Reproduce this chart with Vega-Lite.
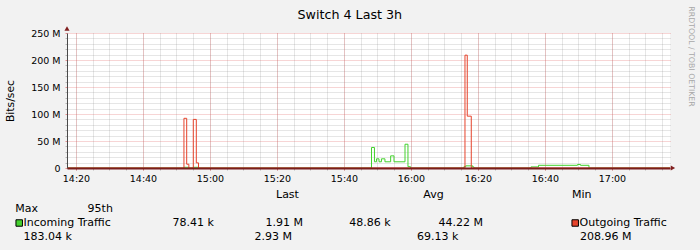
{
  "$schema": "https://vega.github.io/schema/vega-lite/v6.json",
  "autosize": {"type": "none"},
  "padding": {"left": 67, "top": 33, "right": 30, "bottom": 82},
  "width": 603,
  "height": 135,
  "background": "#f2f2f2",
  "config": {
    "view": {"stroke": null, "fill": "#ffffff"},
    "font": "DejaVu Sans",
    "axis": {"labelFont": "DejaVu Sans", "titleFont": "DejaVu Sans"}
  },
  "title": {
    "text": "Switch 4 Last 3h",
    "font": "DejaVu Sans",
    "fontSize": 12.7,
    "fontWeight": "normal",
    "color": "#000000",
    "anchor": "start",
    "frame": "group",
    "dx": 230.5,
    "dy": 25.5,
    "baseline": "alphabetic",
    "offset": 0
  },
  "datasets": {
    "traffic": [
      {"minute": 857.32, "series": "Incoming Traffic", "bps": 0},
      {"minute": 892.23, "series": "Incoming Traffic", "bps": 1300000},
      {"minute": 893.67, "series": "Incoming Traffic", "bps": 0},
      {"minute": 895.02, "series": "Incoming Traffic", "bps": 1300000},
      {"minute": 896.58, "series": "Incoming Traffic", "bps": 0},
      {"minute": 948.22, "series": "Incoming Traffic", "bps": 38000000},
      {"minute": 949.1, "series": "Incoming Traffic", "bps": 11500000},
      {"minute": 949.7, "series": "Incoming Traffic", "bps": 17000000},
      {"minute": 950.45, "series": "Incoming Traffic", "bps": 11500000},
      {"minute": 951.18, "series": "Incoming Traffic", "bps": 17000000},
      {"minute": 952.23, "series": "Incoming Traffic", "bps": 11500000},
      {"minute": 953.93, "series": "Incoming Traffic", "bps": 22500000},
      {"minute": 954.93, "series": "Incoming Traffic", "bps": 11500000},
      {"minute": 958.22, "series": "Incoming Traffic", "bps": 44000000},
      {"minute": 959.1, "series": "Incoming Traffic", "bps": 2500000},
      {"minute": 959.85, "series": "Incoming Traffic", "bps": 0},
      {"minute": 975.82, "series": "Incoming Traffic", "bps": 2500000},
      {"minute": 976.33, "series": "Incoming Traffic", "bps": 4000000},
      {"minute": 978.42, "series": "Incoming Traffic", "bps": 2000000},
      {"minute": 978.8, "series": "Incoming Traffic", "bps": 0},
      {"minute": 995.82, "series": "Incoming Traffic", "bps": 2000000},
      {"minute": 998.07, "series": "Incoming Traffic", "bps": 5000000},
      {"minute": 1009.7, "series": "Incoming Traffic", "bps": 6500000},
      {"minute": 1010.6, "series": "Incoming Traffic", "bps": 5000000},
      {"minute": 1013.13, "series": "Incoming Traffic", "bps": 0},
      {"minute": 1037.32, "series": "Incoming Traffic", "bps": 0},
      {"minute": 857.32, "series": "Outgoing Traffic", "bps": 0},
      {"minute": 892.23, "series": "Outgoing Traffic", "bps": 92000000},
      {"minute": 893.05, "series": "Outgoing Traffic", "bps": 7000000},
      {"minute": 893.7, "series": "Outgoing Traffic", "bps": 0},
      {"minute": 895.02, "series": "Outgoing Traffic", "bps": 90000000},
      {"minute": 895.92, "series": "Outgoing Traffic", "bps": 9500000},
      {"minute": 896.58, "series": "Outgoing Traffic", "bps": 0},
      {"minute": 976.12, "series": "Outgoing Traffic", "bps": 208960000},
      {"minute": 976.8, "series": "Outgoing Traffic", "bps": 96000000},
      {"minute": 978.0, "series": "Outgoing Traffic", "bps": 0},
      {"minute": 1037.32, "series": "Outgoing Traffic", "bps": 0}
    ],
    "legendText": [
      {"row": 1, "pos": 276, "label": "Last"},
      {"row": 1, "pos": 423.3, "label": "Avg"},
      {"row": 1, "pos": 572, "label": "Min"},
      {"row": 2, "pos": 15.3, "label": "Max"},
      {"row": 2, "pos": 87.6, "label": "95th"},
      {"row": 3, "pos": 23.5, "label": "Incoming Traffic"},
      {"row": 3, "pos": 172.6, "label": "78.41 k"},
      {"row": 3, "pos": 265.6, "label": "1.91 M"},
      {"row": 3, "pos": 349.3, "label": "48.86 k"},
      {"row": 3, "pos": 438.6, "label": "44.22 M"},
      {"row": 3, "pos": 579.5, "label": "Outgoing Traffic"},
      {"row": 4, "pos": 23.6, "label": "183.04 k"},
      {"row": 4, "pos": 254.6, "label": "2.93 M"},
      {"row": 4, "pos": 417, "label": "69.13 k"},
      {"row": 4, "pos": 580, "label": "208.96 M"}
    ],
    "legendSwatch": [
      {"row": 3, "pos": 19.2, "series": "Incoming Traffic"},
      {"row": 3, "pos": 575.2, "series": "Outgoing Traffic"}
    ]
  },
  "layer": [
    {
      "data": {"name": "traffic"},
      "transform": [{"filter": "datum.series == 'Incoming Traffic'"}],
      "mark": {"type": "line", "interpolate": "step-after", "strokeWidth": 1},
      "encoding": {
        "x": {
          "field": "minute", "type": "quantitative",
          "scale": {"domain": [857.32, 1037.32], "nice": false, "zero": false},
          "axis": {
            "orient": "bottom",
            "values": [860, 865, 870, 875, 880, 885, 890, 895, 900, 905, 910, 915, 920, 925, 930, 935, 940, 945, 950, 955, 960, 965, 970, 975, 980, 985, 990, 995, 1000, 1005, 1010, 1015, 1020, 1025, 1030, 1035],
            "grid": true, "gridColor": "#8f8f8f", "gridOpacity": 0.45, "gridDash": [1, 1], "gridWidth": 1,
            "labels": false, "domain": false, "ticks": true, "tickSize": 2, "tickColor": "#8f8f8f", "tickOpacity": 0.6,
            "title": null, "zindex": 0
          }
        },
        "y": {
          "field": "bps", "type": "quantitative",
          "scale": {"domain": [0, 250000000], "nice": false, "zero": false},
          "axis": {
            "orient": "left",
            "values": [10000000, 20000000, 30000000, 40000000, 60000000, 70000000, 80000000, 90000000, 110000000, 120000000, 130000000, 140000000, 160000000, 170000000, 180000000, 190000000, 210000000, 220000000, 230000000, 240000000],
            "grid": true, "gridColor": "#8f8f8f", "gridOpacity": 0.45, "gridDash": [1, 1], "gridWidth": 1,
            "labels": false, "domain": false, "ticks": true, "tickSize": 2, "tickColor": "#8f8f8f", "tickOpacity": 0.6,
            "title": null, "zindex": 0
          }
        },
        "color": {
          "field": "series", "type": "nominal",
          "scale": {"domain": ["Incoming Traffic", "Outgoing Traffic"], "range": ["#44d22e", "#e6432b"]},
          "legend": null
        }
      }
    },
    {
      "data": {"name": "traffic"},
      "transform": [{"filter": "datum.series == 'Outgoing Traffic'"}],
      "mark": {"type": "line", "interpolate": "step-after", "strokeWidth": 1},
      "encoding": {
        "x": {
          "field": "minute", "type": "quantitative",
          "scale": {"domain": [857.32, 1037.32], "nice": false, "zero": false},
          "axis": {
            "orient": "bottom",
            "values": [860, 880, 900, 920, 940, 960, 980, 1000, 1020],
            "labelExpr": "floor(datum.value / 60) + ':' + (datum.value % 60 < 10 ? '0' : '') + (datum.value % 60)",
            "grid": true, "gridColor": "#e05a5a", "gridOpacity": 0.5, "gridDash": [1, 1], "gridWidth": 1,
            "domain": true, "domainColor": "#7a1d1d", "domainWidth": 2,
            "ticks": true, "tickSize": 2, "tickColor": "#de4f4f", "tickOpacity": 0.6,
            "labelFontSize": 9.5, "labelColor": "#000000", "labelPadding": 3, "labelFlush": false, "labelOverlap": false,
            "title": null, "zindex": 1
          }
        },
        "y": {
          "field": "bps", "type": "quantitative",
          "scale": {"domain": [0, 250000000], "nice": false, "zero": false},
          "axis": {
            "orient": "left",
            "values": [0, 50000000, 100000000, 150000000, 200000000, 250000000],
            "labelExpr": "datum.value == 0 ? '0' : format(datum.value / 1000000, 'd') + ' M'",
            "grid": true, "gridColor": "#e05a5a", "gridOpacity": 0.5, "gridDash": [1, 1], "gridWidth": 1,
            "domain": true, "domainColor": "#4a4a4a", "domainWidth": 1,
            "ticks": true, "tickSize": 2, "tickColor": "#de4f4f", "tickOpacity": 0.6,
            "labelFontSize": 9.5, "labelColor": "#000000", "labelPadding": 5, "labelFlush": false, "labelOverlap": false,
            "title": "Bits/sec", "titleFontSize": 10.8, "titleFontWeight": "normal", "titleColor": "#000000",
            "titleAngle": 270, "titleX": -56.7, "titleY": 67.5, "titleAlign": "center", "titleBaseline": "middle",
            "zindex": 1
          }
        },
        "color": {
          "field": "series", "type": "nominal",
          "scale": {"domain": ["Incoming Traffic", "Outgoing Traffic"], "range": ["#44d22e", "#e6432b"]},
          "legend": null
        }
      }
    },
    {
      "data": {"values": [{}]},
      "mark": {"type": "point", "shape": "triangle-right", "filled": true, "size": 26, "color": "#801f1f", "opacity": 1},
      "encoding": {
        "x": {"datum": 1038.2, "type": "quantitative", "scale": {"domain": [857.32, 1037.32], "nice": false, "zero": false}, "axis": null},
        "y": {"datum": 0, "type": "quantitative", "scale": {"domain": [0, 250000000], "nice": false, "zero": false}, "axis": null}
      }
    },
    {
      "data": {"values": [{}]},
      "mark": {"type": "point", "shape": "triangle-up", "filled": true, "size": 26, "color": "#801f1f", "opacity": 1},
      "encoding": {
        "x": {"datum": 857.32, "type": "quantitative", "scale": {"domain": [857.32, 1037.32], "nice": false, "zero": false}, "axis": null},
        "y": {"datum": 258300000, "type": "quantitative", "scale": {"domain": [0, 250000000], "nice": false, "zero": false}, "axis": null}
      }
    },
    {
      "data": {"name": "legendText"},
      "mark": {"type": "text", "align": "left", "baseline": "middle", "font": "DejaVu Sans", "fontSize": 11, "color": "#000000"},
      "encoding": {
        "x": {"field": "pos", "type": "quantitative", "scale": {"domain": [67, 670], "nice": false, "zero": false}, "axis": null},
        "y": {
          "field": "row", "type": "quantitative",
          "scale": {"domain": [-10.571, -0.928], "reverse": true, "nice": false, "zero": false},
          "axis": {
            "orient": "right", "domain": false, "ticks": false, "labels": false, "grid": false,
            "title": "RRDTOOL / TOBI OETIKER", "titleFontSize": 7.8, "titleFontWeight": "normal", "titleColor": "#a8a8a8",
            "titleAngle": 90, "titleX": 20.7, "titleY": 23, "titleAlign": "center", "titleBaseline": "middle"
          }
        },
        "text": {"field": "label"}
      }
    },
    {
      "data": {"name": "legendSwatch"},
      "mark": {"type": "point", "shape": "square", "filled": true, "size": 42, "stroke": "#000000", "strokeWidth": 1, "opacity": 1},
      "encoding": {
        "x": {"field": "pos", "type": "quantitative", "scale": {"domain": [67, 670], "nice": false, "zero": false}, "axis": null},
        "y": {"field": "row", "type": "quantitative", "scale": {"domain": [-10.571, -0.928], "reverse": true, "nice": false, "zero": false}, "axis": null},
        "color": {
          "field": "series", "type": "nominal",
          "scale": {"domain": ["Incoming Traffic", "Outgoing Traffic"], "range": ["#44d22e", "#e6432b"]},
          "legend": null
        }
      }
    }
  ],
  "resolve": {"scale": {"x": "independent", "y": "independent"}}
}
